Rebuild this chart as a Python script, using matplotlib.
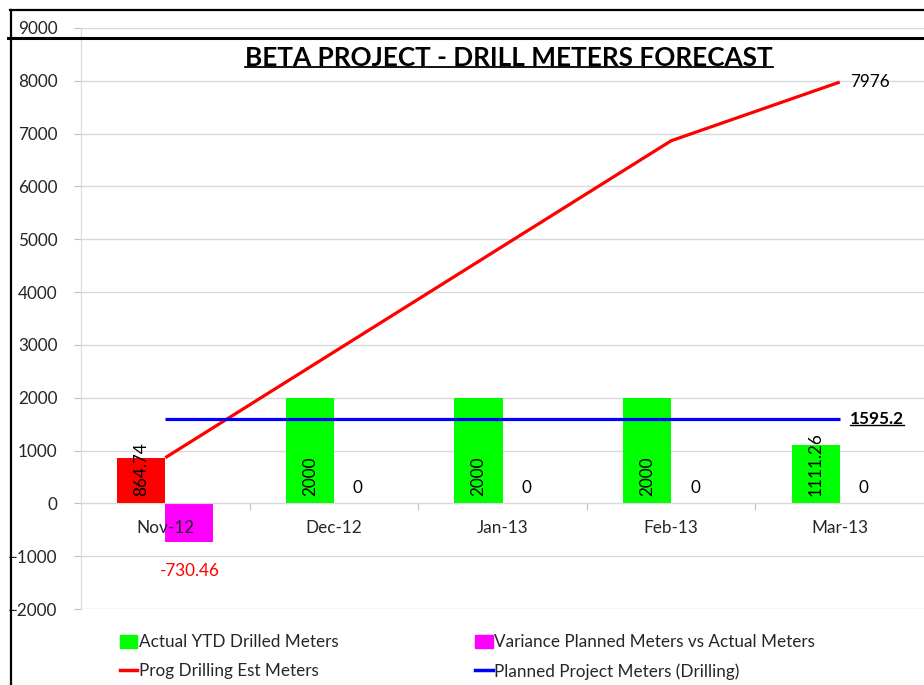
import matplotlib
matplotlib.use("Agg")
import matplotlib.pyplot as plt
from matplotlib.lines import Line2D
from matplotlib.patches import Patch
import matplotlib.transforms as mtransforms

plt.rcParams['font.family'] = ['Lato', 'DejaVu Sans']

categories = ["Nov-12", "Dec-12", "Jan-13", "Feb-13", "Mar-13"]
actual_ytd = [864.74, 2000, 2000, 2000, 1111.26]
variance = [-730.46, 0, 0, 0, 0]
prog_est = [864.74, 2864.74, 4864.74, 6864.74, 7976]
planned = [1595.2, 1595.2, 1595.2, 1595.2, 1595.2]
yticks = [-2000, -1000, 0, 1000, 2000, 3000, 4000, 5000, 6000, 7000, 8000, 9000]

W, H = 924, 685
FS = 12.3
fig = plt.figure(figsize=(W / 100, H / 100), dpi=100)
ax = fig.add_axes([81 / W, 1 - 609 / H, 1 - 81 / W, (609 - 28) / H])

x = list(range(len(categories)))
bw = 0.285
green_colors = ['#FF0000'] + ['#00FF00'] * (len(categories) - 1)
ax.bar([i - bw / 2 for i in x], actual_ytd, width=bw, color=green_colors, zorder=2)
ax.bar([i + bw / 2 for i in x], variance, width=bw, color='#FF00FF', zorder=2)
ax.plot(x, prog_est, color='#FF0000', lw=2.3, zorder=3, solid_capstyle='butt')
ax.plot(x, planned, color='#0000FF', lw=2.3, zorder=3, solid_capstyle='butt')

ax.set_xlim(-0.5, len(categories) - 0.5)
ax.set_ylim(-2000, 9000)
ax.set_yticks(yticks)
ax.set_axisbelow(True)
ax.grid(axis='y', color='#d9d9d9', lw=1)
for s in ['top', 'right']:
    ax.spines[s].set_visible(False)
ax.spines['left'].set_color('#d9d9d9')
ax.spines['bottom'].set_position(('data', 0))
ax.spines['bottom'].set_color('#d9d9d9')
ax.set_xticks([i + 0.5 for i in x[:-1]])
ax.set_xticklabels([])
ax.tick_params(axis='x', length=5, color='#bfbfbf', direction='out')
ax.tick_params(axis='y', length=5, color='#bfbfbf', labelsize=FS, labelcolor='#262626', pad=12)

tc = '#262626'
px = mtransforms.offset_copy
for i, c in enumerate(categories):
    ax.text(i, 0, c, transform=px(ax.transData, fig=fig, x=0, y=-25, units='dots'),
            ha='center', va='center', fontsize=FS, color=tc, zorder=6)
    ax.text(i - bw / 2, 0, f"{actual_ytd[i]:g}",
            transform=px(ax.transData, fig=fig, x=0, y=7, units='dots'),
            ha='center', va='bottom', rotation=90, fontsize=FS, color='black', zorder=6)
    if variance[i] == 0:
        ax.text(i + bw / 2, 0, "0", transform=px(ax.transData, fig=fig, x=0, y=7, units='dots'),
                ha='center', va='bottom', fontsize=FS, color='black', zorder=6)
    else:
        ax.text(i + bw / 2, variance[i], f"{variance[i]:g}",
                transform=px(ax.transData, fig=fig, x=0, y=-21, units='dots'),
                ha='center', va='top', fontsize=FS, color='#FF0000', zorder=6)

ax.text(x[-1], prog_est[-1], f"{prog_est[-1]:g}",
        transform=px(ax.transData, fig=fig, x=10, y=0, units='dots'),
        ha='left', va='center', fontsize=FS, color='black', zorder=6)
plab = ax.text(x[-1], planned[-1], f"{planned[-1]:g}",
               transform=px(ax.transData, fig=fig, x=10, y=0, units='dots'),
               ha='left', va='center', fontsize=FS, fontweight='bold', color='black', zorder=6)

title = fig.text(509 / W, 1 - 58 / H, "BETA PROJECT - DRILL METERS FORECAST",
                 ha='center', va='center', fontsize=18.8, fontweight='bold', color='black')

# legend
handles = [Patch(color='#00FF00'), Line2D([], [], color='#FF0000', lw=2.5),
           Patch(color='#FF00FF'), Line2D([], [], color='#0000FF', lw=2.5)]
labels = ["Actual YTD Drilled Meters", "Prog Drilling Est Meters",
          "Variance Planned Meters vs Actual Meters", "Planned Project Meters (Drilling)"]
fig.legend(handles, labels, ncol=2, loc='upper left', bbox_to_anchor=(105 / W, 1 - 619 / H),
           frameon=False, fontsize=FS, handlelength=1.0, handleheight=0.85,
           handletextpad=0.1, columnspacing=8.0, labelspacing=0.75, labelcolor='#262626')

# frame lines
fig.add_artist(Line2D([10 / W, 1], [1 - 10 / H, 1 - 10 / H], color='black', lw=1.6))
fig.add_artist(Line2D([11 / W, 11 / W], [1 - 10 / H, 0], color='black', lw=1.6))
fig.add_artist(Line2D([8 / W, 1], [1 - 37.5 / H, 1 - 37.5 / H], color='black', lw=2.2))

# underlines
fig.canvas.draw()
r = fig.canvas.get_renderer()
for t, off, lw in [(title, 3, 1.3), (plab, 2, 1.0)]:
    bb = t.get_window_extent(r)
    y = bb.y0 + off
    fig.add_artist(Line2D([bb.x0 / W, bb.x1 / W], [y / H, y / H], color='black', lw=lw))

fig.savefig("out.png", dpi=100)
